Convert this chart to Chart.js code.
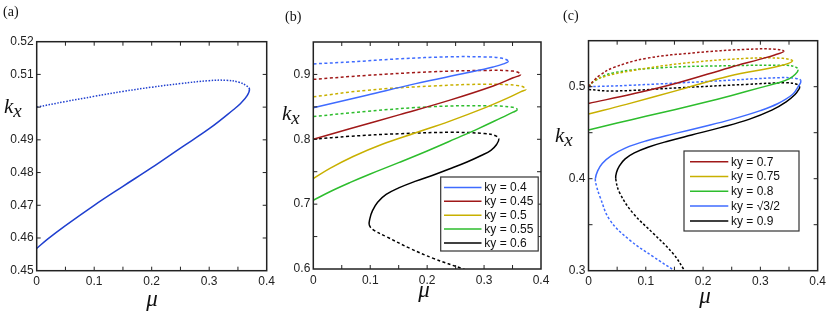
<!DOCTYPE html>
<html><head><meta charset="utf-8">
<script src="https://cdn.jsdelivr.net/npm/chart.js@4.4.0/dist/chart.umd.min.js"></script>
<style>
html,body{margin:0;padding:0;background:#fff;}
#wrap{position:relative;width:830px;height:318px;overflow:hidden;background:#fff;}
canvas{position:absolute;top:0;}
svg{position:absolute;left:0;top:0;pointer-events:none;}
.pl{font-family:'Liberation Serif','DejaVu Serif',serif;font-size:14px;fill:#111;}
.ax{font-family:'Liberation Serif','DejaVu Serif',serif;font-style:italic;fill:#111;}
</style></head><body>
<div id="wrap">
<canvas id="ca" width="280" height="318" style="left:0px"></canvas>
<canvas id="cb" width="275" height="318" style="left:280px"></canvas>
<canvas id="cc" width="275" height="318" style="left:555px"></canvas>
<svg width="830" height="318">
  <text class="pl" x="3" y="16">(a)</text>
  <text class="pl" x="285" y="21">(b)</text>
  <text class="pl" x="563" y="20">(c)</text>
  <text class="ax" x="4" y="113" font-size="21">k<tspan font-size="19" dy="4">x</tspan></text>
  <text class="ax" x="282" y="120" font-size="21">k<tspan font-size="19" dy="4">x</tspan></text>
  <text class="ax" x="555" y="142" font-size="21">k<tspan font-size="19" dy="4">x</tspan></text>
  <text class="ax" x="152" y="306" font-size="23" text-anchor="middle">μ</text>
  <text class="ax" x="424" y="297" font-size="23" text-anchor="middle">μ</text>
  <text class="ax" x="705" y="303" font-size="23" text-anchor="middle">μ</text>
</svg>
</div>
<script>
// ---------- DATA (mu, kx) ----------
// Panel (a)
const aUnstable = [[0,0.5000],[0.05,0.5017],[0.10,0.5033],[0.15,0.5048],[0.20,0.5061],[0.25,0.5072],[0.30,0.5081],[0.33,0.5082],[0.352,0.5076],[0.364,0.5066],[0.370,0.5055]];
const aStable   = [[0.370,0.5055],[0.366,0.5035],[0.355,0.5012],[0.342,0.4992],[0.30,0.4934],[0.25,0.4875],[0.20,0.4815],[0.15,0.4758],[0.10,0.4700],[0.05,0.4638],[0.02,0.4598],[0,0.4568]];
const aHiddenTick = 0.50; // k_x label sits where this tick label would be

// Panel (b)
const bLabels = ['ky = 0.4','ky = 0.45','ky = 0.5','ky = 0.55','ky = 0.6'];
const b040Unstable = [[0,0.9162],[0.065,0.9193],[0.15,0.9240],[0.24,0.9272],[0.30,0.9270],[0.33,0.9252],[0.3425,0.9205]];
const b040Stable   = [[0.3425,0.9205],[0.334,0.9162],[0.316,0.9115],[0.27,0.9025],[0.18,0.8858],[0.094,0.8680],[0,0.8487]];
const b045Unstable = [[0,0.8924],[0.094,0.8985],[0.21,0.9041],[0.30,0.9061],[0.351,0.9051],[0.3642,0.9000]];
const b045Stable   = [[0.3642,0.9000],[0.351,0.8949],[0.316,0.8822],[0.24,0.8604],[0.152,0.8380],[0.064,0.8162],[0,0.8000]];
const b050Unstable = [[0,0.8655],[0.094,0.8756],[0.21,0.8822],[0.304,0.8848],[0.362,0.8825],[0.3735,0.8772]];
const b050Stable   = [[0.3735,0.8772],[0.365,0.8735],[0.34,0.8630],[0.30,0.8480],[0.24,0.8280],[0.18,0.8100],[0.12,0.7920],[0.07,0.7735],[0.03,0.7555],[0,0.7395]];
const b055Unstable = [[0,0.8350],[0.094,0.8431],[0.21,0.8503],[0.304,0.8518],[0.350,0.8495],[0.3583,0.8457]];
const b055Stable   = [[0.3583,0.8457],[0.351,0.8418],[0.33,0.8330],[0.29,0.8165],[0.25,0.8010],[0.20,0.7820],[0.15,0.7640],[0.10,0.7465],[0.065,0.7335],[0.03,0.7195],[0,0.7060]];
const b060Unstable = [[0,0.8000],[0.064,0.8046],[0.152,0.8086],[0.24,0.8107],[0.30,0.8090],[0.320,0.8055],[0.326,0.8005]];
const b060Stable   = [[0.326,0.8005],[0.322,0.7920],[0.312,0.7830],[0.295,0.7750],[0.27,0.7650],[0.24,0.7545],[0.21,0.7446],[0.18,0.7355],[0.15,0.7250],[0.128,0.7150],[0.113,0.7030],[0.104,0.6900],[0.0995,0.6780],[0.0984,0.6677]];
const b060Lower    = [[0.0984,0.6677],[0.106,0.6600],[0.1288,0.6497],[0.1698,0.6318],[0.2108,0.6164],[0.2635,0.6000],[0.27,0.5980]];

// Panel (c)
const cLabels = ['ky = 0.7','ky = 0.75','ky = 0.8','ky = \u221A3/2','ky = 0.9'];
const c070Unstable = [[0,0.5000],[0.01,0.5070],[0.02,0.5125],[0.0432,0.5207],[0.101,0.5308],[0.188,0.5370],[0.275,0.5406],[0.325,0.5408],[0.341,0.5385]];
const c070Stable   = [[0.341,0.5385],[0.325,0.5345],[0.30,0.5300],[0.246,0.5207],[0.155,0.5040],[0.08,0.4925],[0,0.4818]];
const c075Unstable = [[0,0.5000],[0.01,0.5065],[0.03,0.5115],[0.072,0.5170],[0.159,0.5250],[0.275,0.5308],[0.339,0.5308],[0.356,0.5279]];
const c075Stable   = [[0.356,0.5279],[0.333,0.5225],[0.246,0.5116],[0.16,0.4968],[0.066,0.4808],[0,0.4703]];
const c080Unstable = [[0,0.5000],[0.01,0.5060],[0.043,0.5150],[0.13,0.5207],[0.246,0.5228],[0.345,0.5232],[0.361,0.5215],[0.366,0.5185]];
const c080Stable   = [[0.366,0.5185],[0.361,0.5135],[0.35,0.5085],[0.33,0.5040],[0.30,0.4990],[0.25,0.4905],[0.20,0.4825],[0.15,0.4750],[0.10,0.4678],[0.05,0.4605],[0,0.4529]];
const c087Unstable = [[0,0.5000],[0.072,0.5015],[0.217,0.5060],[0.333,0.5098],[0.362,0.5090],[0.3707,0.5065]];
const c087Stable   = [[0.3707,0.5065],[0.366,0.5000],[0.356,0.4915],[0.33,0.4815],[0.30,0.4740],[0.25,0.4645],[0.20,0.4565],[0.15,0.4490],[0.10,0.4410],[0.065,0.4335],[0.040,0.4250],[0.024,0.4165],[0.016,0.4085],[0.012,0.4000]];
const c087Lower    = [[0.012,0.4000],[0.014,0.3920],[0.020,0.3804],[0.0374,0.3550],[0.072,0.3333],[0.113,0.3152],[0.1504,0.3000],[0.154,0.2985]];
const c090Unstable = [[0,0.4970],[0.043,0.4953],[0.159,0.4989],[0.275,0.5025],[0.345,0.5043],[0.362,0.5030],[0.3685,0.5000]];
const c090Stable   = [[0.3685,0.5000],[0.3665,0.4965],[0.3605,0.4915],[0.345,0.4835],[0.32,0.4745],[0.28,0.4645],[0.23,0.4555],[0.18,0.4475],[0.14,0.4410],[0.105,0.4345],[0.08,0.4280],[0.064,0.4215],[0.054,0.4140],[0.049,0.4070],[0.0475,0.4000]];
const c090Lower    = [[0.0475,0.4000],[0.0548,0.3841],[0.078,0.3623],[0.113,0.3406],[0.1475,0.3188],[0.168,0.3000],[0.171,0.2975]];

// ---------- styles ----------
const aColor = '#1f3fcf';
const bColors = ['#3f6bff','#a01818','#c8b000','#2dbd2d','#000000'];
const cColors = ['#a01818','#c8b000','#2dbd2d','#3f6bff','#000000'];

Chart.defaults.font.family = "'Liberation Sans', Arial, Helvetica, sans-serif";
Chart.defaults.font.size = 12;
Chart.defaults.color = '#222';

function curveDataset(label, color, top, stable, lower, dash) {
  let pts = top.slice();
  const s0 = pts.length - 1;
  pts = pts.concat(stable.slice(1));
  const s1 = pts.length - 1;
  if (lower) pts = pts.concat(lower.slice(1));
  return {
    label: label,
    data: pts.map(p => ({x: p[0], y: p[1]})),
    borderColor: color, backgroundColor: color,
    borderWidth: 1.5, pointRadius: 0, pointHoverRadius: 0, fill: false, tension: 0.4,
    segment: { borderDash: ctx => (ctx.p0DataIndex >= s0 && ctx.p1DataIndex <= s1) ? [] : dash }
  };
}

const framePlugin = {
  id: 'frame',
  afterDraw(chart, args, opts) {
    const ctx = chart.ctx, a = chart.chartArea, x = chart.scales.x, y = chart.scales.y;
    ctx.save();
    ctx.setLineDash([]);
    ctx.strokeStyle = '#222'; ctx.lineWidth = 1;
    const L = 4;
    ctx.beginPath();
    x.ticks.forEach(t => {
      const px = x.getPixelForValue(t.value);
      if (px < a.left + 1 || px > a.right - 1) return;
      ctx.moveTo(px, a.bottom); ctx.lineTo(px, a.bottom - L);
      ctx.moveTo(px, a.top); ctx.lineTo(px, a.top + L);
    });
    y.ticks.forEach(t => {
      const py = y.getPixelForValue(t.value);
      if (py < a.top + 1 || py > a.bottom - 1) return;
      ctx.moveTo(a.left, py); ctx.lineTo(a.left + L, py);
      ctx.moveTo(a.right, py); ctx.lineTo(a.right - L, py);
    });
    ctx.stroke();
    ctx.lineWidth = 1.5; ctx.strokeStyle = '#222';
    ctx.strokeRect(a.left, a.top, a.right - a.left, a.bottom - a.top);
    const lg = opts.legend;
    if (lg) {
      ctx.fillStyle = '#fff'; ctx.fillRect(lg.x, lg.y, lg.w, lg.h);
      ctx.strokeStyle = '#333'; ctx.lineWidth = 1.2; ctx.strokeRect(lg.x, lg.y, lg.w, lg.h);
      ctx.font = "12px 'Liberation Sans', Arial, sans-serif";
      ctx.textBaseline = 'middle'; ctx.textAlign = 'left';
      chart.data.datasets.forEach((d, i) => {
        const yy = lg.y + lg.first + i * lg.dy;
        ctx.strokeStyle = d.borderColor; ctx.lineWidth = 1.5;
        ctx.beginPath(); ctx.moveTo(lg.x0, yy); ctx.lineTo(lg.x1, yy); ctx.stroke();
        ctx.fillStyle = '#111';
        ctx.fillText(d.label, lg.tx, yy + 0.5);
      });
    }
    ctx.restore();
  }
};

function xLabel(v) {
  const i = Math.round(v * 20);
  if (i % 2 !== 0) return '';
  return i === 0 ? '0' : String(i / 20);
}
function yLabelTenth(v) {
  const i = Math.round(v * 20);
  return i % 2 === 0 ? (i / 20).toFixed(1) : '';
}
function yLabelA(v) {
  return Math.abs(v - aHiddenTick) < 1e-6 ? '' : v.toFixed(2);
}

function makeChart(id, datasets, ymin, ymax, ystep, yFmt, yWidth, pad, legend) {
  return new Chart(document.getElementById(id), {
    type: 'line',
    data: { datasets: datasets },
    options: {
      responsive: false, animation: false, devicePixelRatio: 1,
      layout: { padding: pad },
      plugins: { legend: { display: false }, tooltip: { enabled: false }, frame: { legend: legend } },
      scales: {
        x: { type: 'linear', min: 0, max: 0.4,
             grid: { display: false, drawTicks: false }, border: { display: false },
             ticks: { stepSize: 0.05, autoSkip: false, maxRotation: 0, minRotation: 0, padding: 4, callback: xLabel },
             afterFit: s => { s.height = 22; } },
        y: { type: 'linear', min: ymin, max: ymax,
             grid: { display: false, drawTicks: false }, border: { display: false },
             ticks: { stepSize: ystep, autoSkip: false, padding: 3, callback: yFmt },
             afterFit: s => { s.width = yWidth; } }
      }
    },
    plugins: [framePlugin]
  });
}

// Panel (a)
makeChart('ca',
  [curveDataset('', aColor, aUnstable, aStable, null, [1.5, 1.5])],
  0.45, 0.52, 0.01, yLabelA, 36.7,
  { left: 0, right: 13.3, top: 41.7, bottom: 25.3 }, null);

// Panel (b)
const bDash = [3, 2.5];
makeChart('cb', [
  curveDataset(bLabels[0], bColors[0], b040Unstable, b040Stable, null, bDash),
  curveDataset(bLabels[1], bColors[1], b045Unstable, b045Stable, null, bDash),
  curveDataset(bLabels[2], bColors[2], b050Unstable, b050Stable, null, bDash),
  curveDataset(bLabels[3], bColors[3], b055Unstable, b055Stable, null, bDash),
  curveDataset(bLabels[4], bColors[4], b060Unstable, b060Stable, b060Lower, bDash)
], 0.6, 0.95, 0.05, yLabelTenth, 33.3,
  { left: 0, right: 14, top: 42, bottom: 27 },
  { x: 160.7, y: 177, w: 97.5, h: 74, first: 10.5, dy: 13.85, x0: 164, x1: 201.5, tx: 204.3 });

// Panel (c)
const cDash = [2.5, 2];
makeChart('cc', [
  curveDataset(cLabels[0], cColors[0], c070Unstable, c070Stable, null, cDash),
  curveDataset(cLabels[1], cColors[1], c075Unstable, c075Stable, null, cDash),
  curveDataset(cLabels[2], cColors[2], c080Unstable, c080Stable, null, cDash),
  curveDataset(cLabels[3], cColors[3], c087Unstable, c087Stable, c087Lower, cDash),
  curveDataset(cLabels[4], cColors[4], c090Unstable, c090Stable, c090Lower, cDash)
], 0.3, 0.55, 0.05, yLabelTenth, 33.5,
  { left: 0, right: 11.5, top: 40.7, bottom: 25.3 },
  { x: 129, y: 151, w: 115, h: 80, first: 10.7, dy: 14.8, x0: 135, x1: 173.3, tx: 176 });
</script>
</body></html>
